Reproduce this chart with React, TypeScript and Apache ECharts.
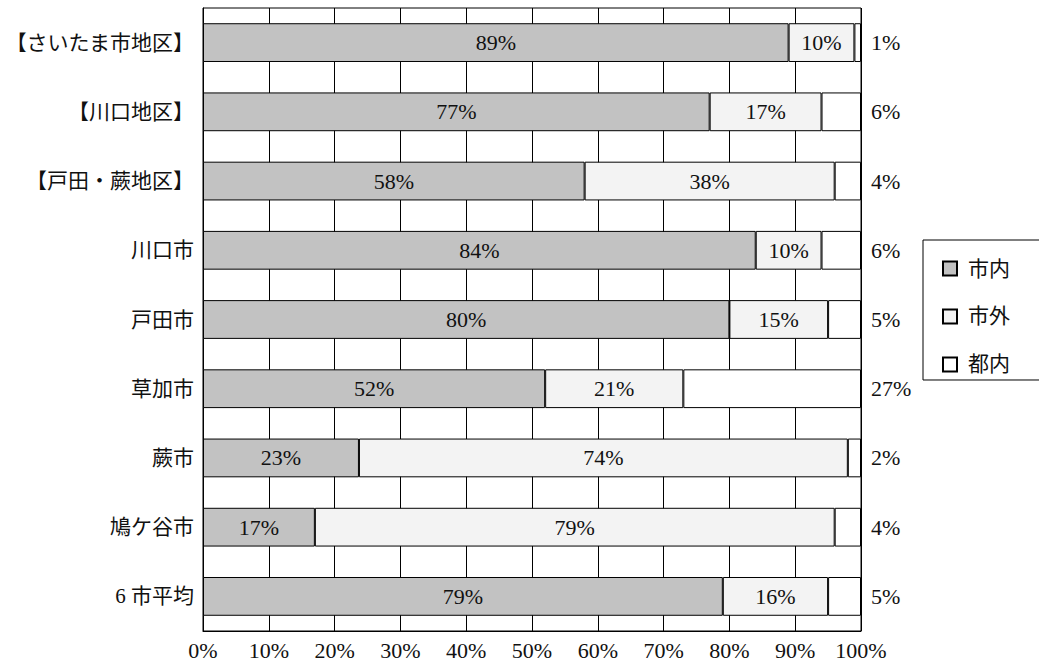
import React, { useEffect, useRef } from "react";
import * as echarts from "echarts";

const categories = [
  "【さいたま市地区】",
  "【川口地区】",
  "【戸田・蕨地区】",
  "川口市",
  "戸田市",
  "草加市",
  "蕨市",
  "鳩ケ谷市",
  "6 市平均",
];
const shinai = [89, 77, 58, 84, 80, 52, 23.7, 17, 79];
const shigai = [10, 17, 38, 10, 15, 21, 74.3, 79, 16];
const tonai = [1, 6, 4, 6, 5, 27, 2, 4, 5];
const seriesNames = ["市内", "市外", "都内"];

const SERIF = "'Liberation Serif', 'Noto Sans CJK JP', serif";
const GOTHIC = "'Liberation Serif', 'Noto Sans CJK JP', sans-serif";

export default function App() {
  const ref = useRef<HTMLDivElement>(null);
  useEffect(() => {
    document.body.style.margin = "0";
    const chart = echarts.init(ref.current!, null, { renderer: "svg" });
    const labelBase = {
      fontFamily: SERIF,
      fontSize: 22,
      color: "#111",
      formatter: (p: any) => Math.floor(p.value) + "%",
    };
    chart.setOption({
      animation: false,
      backgroundColor: "#fff",
      grid: {
        left: 203,
        right: 178,
        top: 8,
        bottom: 35,
        containLabel: false,
        outerBoundsMode: "none",
        show: true,
        borderColor: "#000",
        borderWidth: 1,
      },
      legend: {
        orient: "vertical",
        left: 923,
        top: 240,
        data: seriesNames,
        icon: "rect",
        itemWidth: 14,
        itemHeight: 14,
        itemGap: 27,
        padding: [18, 60, 5, 19],
        borderColor: "#000",
        borderWidth: 1,
        textStyle: {
          fontFamily: GOTHIC,
          fontSize: 21,
          color: "#111",
          lineHeight: 20,
          padding: [0, 0, 0, 6],
        },
      },
      xAxis: {
        type: "value",
        min: 0,
        max: 100,
        interval: 10,
        axisLine: { show: true, lineStyle: { color: "#000" } },
        axisTick: { show: false },
        splitLine: { show: true, lineStyle: { color: "#000", width: 1 } },
        axisLabel: {
          formatter: "{value}%",
          fontFamily: SERIF,
          fontSize: 22,
          color: "#111",
          margin: 8,
        },
      },
      yAxis: {
        type: "category",
        data: categories,
        inverse: true,
        axisLine: { show: true, lineStyle: { color: "#000" } },
        axisTick: { show: false },
        axisLabel: {
          fontFamily: GOTHIC,
          fontSize: 21,
          color: "#111",
          margin: 9,
        },
      },
      series: [
        {
          name: seriesNames[0],
          type: "bar",
          stack: "total",
          data: shinai,
          barCategoryGap: "44%",
          itemStyle: { color: "#c2c2c2", borderColor: "#000", borderWidth: 1 },
          label: { show: true, position: "inside", ...labelBase },
        },
        {
          name: seriesNames[1],
          type: "bar",
          stack: "total",
          data: shigai,
          itemStyle: { color: "#f3f3f3", borderColor: "#000", borderWidth: 1 },
          label: { show: true, position: "inside", ...labelBase },
        },
        {
          name: seriesNames[2],
          type: "bar",
          stack: "total",
          data: tonai,
          itemStyle: { color: "#ffffff", borderColor: "#000", borderWidth: 1 },
          label: { show: true, position: "right", distance: 10, ...labelBase },
        },
      ],
    });
    return () => chart.dispose();
  }, []);
  return (
    <div
      ref={ref}
      style={{ position: "fixed", left: 0, top: 0, width: 1039, height: 666 }}
    />
  );
}
